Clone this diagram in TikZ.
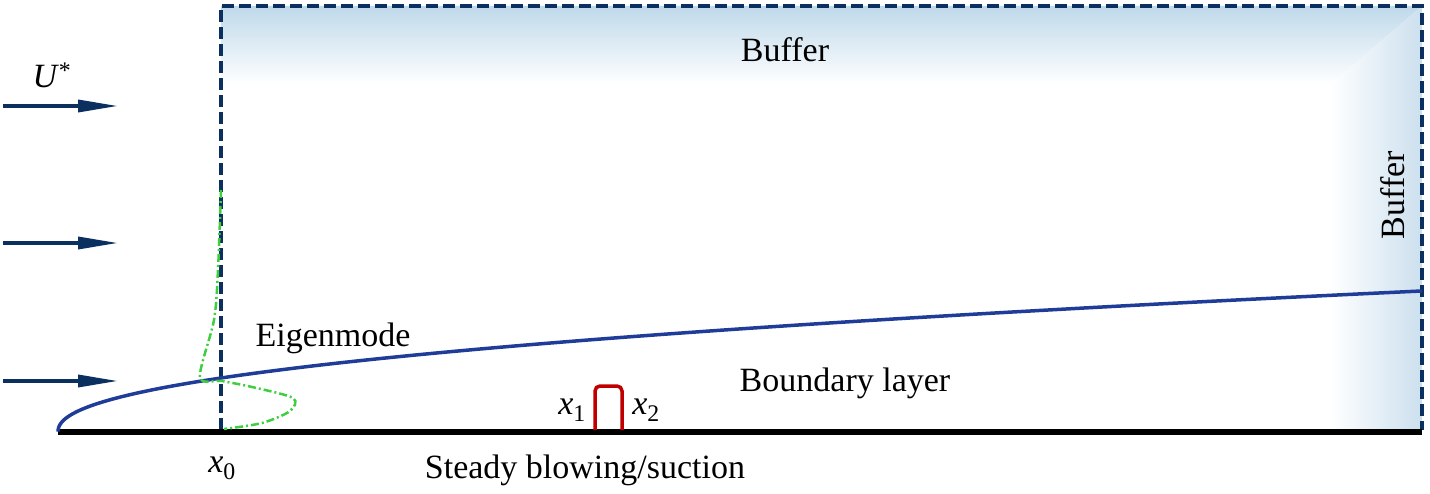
\documentclass[tikz,border=0pt]{standalone}
\usepackage{fontspec}
\setmainfont{Liberation Serif}
\usetikzlibrary{arrows.meta}
\definecolor{navy}{HTML}{0B2F5E}
\definecolor{blcurve}{HTML}{1F3C98}
\definecolor{bufblue}{HTML}{BFD9EA}
\definecolor{bufblueR}{HTML}{CCE0EE}
\definecolor{eggreen}{HTML}{3ECF3E}
\definecolor{bumpred}{HTML}{C00000}
\begin{document}
\begin{tikzpicture}[x=1pt,y=-1pt,
  lbl/.style={font=\fontsize{34}{40}\selectfont, inner sep=0pt},
  flowarrow/.style={navy, line width=3.5pt, -{Triangle[length=40pt,width=12pt]}},
  boxline/.style={navy, line width=4pt, dash pattern=on 12pt off 5pt}]
\useasboundingbox (0,0) rectangle (1430,494);
% buffers shading
\begin{scope}
  \clip (221,6) -- (1422,6) -- (1330,85) -- (221,85) -- cycle;
  \shade[top color=bufblue, bottom color=white] (221,6) rectangle (1422,85);
\end{scope}
\begin{scope}
  \clip (1422,6) -- (1422,430) -- (1330,430) -- (1330,85) -- cycle;
  \shade[left color=white, right color=bufblueR] (1330,6) rectangle (1422,430);
\end{scope}
% domain box
\coordinate (cbl) at (221,430);
\coordinate (ctl) at (221,6);
\coordinate (ctr) at (1422,6);
\coordinate (cbr) at (1422,430);
\draw[boxline] (cbl) -- (ctl) -- (ctr) -- (cbr);
% wall
\coordinate (w0) at (58,432);
\coordinate (w1) at (1422,432);
\draw[line width=6pt] (w0) -- (w1);
% boundary layer edge
\draw[blcurve, line width=3.5pt] plot[domain=0.05:36.93, samples=160, smooth] ({58+\x*\x},{432-5.4*pow(\x,0.904)});
% eigenmode profile
\draw[eggreen, line width=2.5pt, dash pattern=on 8pt off 3pt on 2pt off 3pt]
  plot[smooth, tension=0.5] coordinates {(221,190) (218,270) (214,320) (200,377) (222,381) (252,387) (293,398) (290,411) (262,423) (224,429)};
% blowing/suction bump
\draw[bumpred, line width=3.5pt, rounded corners=5pt] (595,430) -- (595,386) -- (622,386) -- (622,430);
% inflow arrows
\foreach \n/\yy in {a/106, b/243, c/381}{
  \coordinate (\n0) at (3,\yy);
  \coordinate (\n1) at (118,\yy);
  \draw[flowarrow] (\n0) -- (\n1);
}
% labels
\node[lbl] (U) at (52,75) {\textit{U}\textsuperscript{*}};
\node[lbl] (buftop) at (785,50) {Buffer};
\node[lbl, rotate=90] (bufright) at (1393,195) {Buffer};
\node[lbl] (eig) at (333,338) {Eigenmode};
\node[lbl] (bltext) at (845,383) {Boundary layer};
\node[lbl] (sbs) at (585,470) {Steady blowing/suction};
\node[lbl] (x0) at (222,468) {\textit{x}\textsubscript{0}};
\node[lbl] (x1) at (572,410) {\textit{x}\textsubscript{1}};
\node[lbl] (x2) at (646,410) {\textit{x}\textsubscript{2}};
\end{tikzpicture}
\end{document}
